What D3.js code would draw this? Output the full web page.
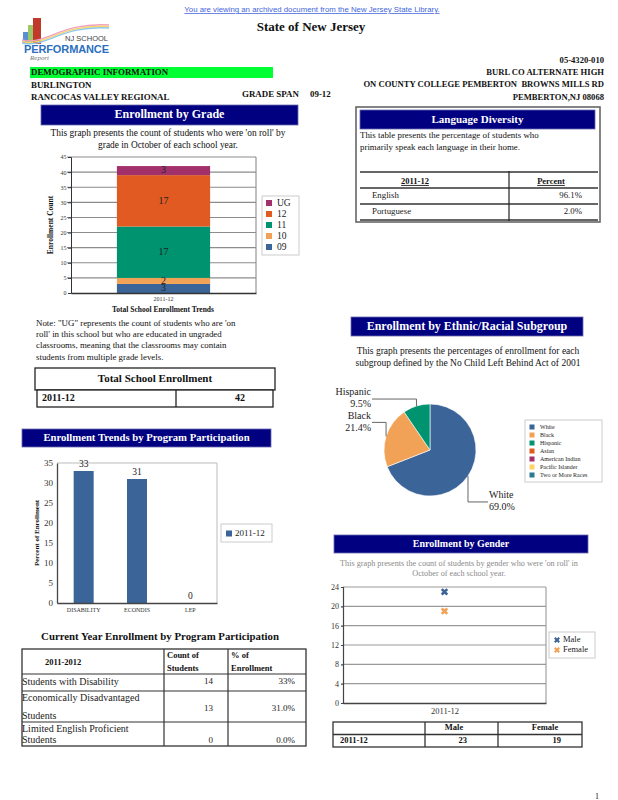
<!DOCTYPE html>
<html>
<head>
<meta charset="utf-8">
<script src="https://cdn.jsdelivr.net/npm/d3@7"></script>
<style>
  body { margin: 0; background: #fff; }
  svg { display: block; }
  text { font-family: "Liberation Serif", "Times New Roman", serif; fill: #111; }
</style>
</head>
<body>
<div id="page"></div>
<script>
// ---- data ----
const gradeYears = ["2011-12"];
const gradeKeys = ["09", "10", "11", "12", "UG"];
const gradeCounts = [3, 2, 17, 17, 3];
const gradeColors = ["#3b6499", "#f2a256", "#00936f", "#e05a21", "#a2306b"];
const gradeTicks = [0, 5, 10, 15, 20, 25, 30, 35, 40, 45];

const languages = ["English", "Portuguese"];
const languagePct = ["96.1%", "2.0%"];

const programCats = ["DISABILITY", "ECONDIS", "LEP"];
const programPct = [33, 31, 0];
const programTicks = [0, 5, 10, 15, 20, 25, 30, 35];

const ethnicGroups = ["White", "Black", "Hispanic", "Asian", "American Indian", "Pacific Islander", "Two or More Races"];
const ethnicPct = [69.0, 21.4, 9.5, 0, 0, 0, 0];
const ethnicColors = ["#3b6499", "#f2a256", "#00936f", "#e05a21", "#a2306b", "#ffd166", "#2a7b91"];

const genderSeries = ["Male", "Female"];
const genderCounts = [23, 19];
const genderColors = ["#3b6499", "#f2a256"];
const genderTicks = [0, 4, 8, 12, 16, 20, 24];

const programRows = [["Students with Disability"], ["Economically Disadvantaged", "Students"], ["Limited English Proficient", "Students"]];
const programCounts = [14, 13, 0];
const programShares = ["33%", "31.0%", "0.0%"];
const totalEnrollment = 42;

const W = 618, H = 800;
const navy = "#000080";

const svg = d3.select("#page").append("svg")
    .attr("width", W)
    .attr("height", H);

function label(g, x, y, s, opts = {}) {
    return g.append("text")
        .attr("x", x)
        .attr("y", y)
        .attr("text-anchor", opts.anchor || "start")
        .attr("dominant-baseline", "middle")
        .attr("font-size", opts.size || 9)
        .attr("font-weight", opts.bold ? "bold" : null)
        .attr("text-decoration", opts.underline ? "underline" : null)
        .style("fill", opts.color || "#111")
        .text(s);
}

function headerBar(x, y, w, h, s, size) {
    svg.append("rect").attr("x", x).attr("y", y).attr("width", w).attr("height", h)
        .attr("fill", navy).attr("stroke", "#6a6ab0").attr("stroke-width", 0.8);
    label(svg, x + w / 2, y + h / 2 + 0.5, s, {anchor: "middle", size: size, bold: true, color: "#fff"});
}

// ---- page header ----
svg.append("text")
    .attr("x", 312).attr("y", 10)
    .attr("text-anchor", "middle").attr("dominant-baseline", "middle")
    .attr("font-size", 7.8)
    .attr("text-decoration", "underline")
    .style("font-family", "'Liberation Sans', Arial, sans-serif")
    .style("fill", "#4466dd")
    .text("You are viewing an archived document from the New Jersey State Library.");

label(svg, 311, 28, "State of New Jersey", {anchor: "middle", size: 13, bold: true});

// logo
const logo = svg.append("g");
logo.append("rect").attr("x", 23).attr("y", 32).attr("width", 5).attr("height", 12).attr("fill", "#5b8fd0");
logo.append("rect").attr("x", 28).attr("y", 25).attr("width", 5).attr("height", 19).attr("fill", "#9cc86a");
logo.append("rect").attr("x", 33).attr("y", 18).attr("width", 8).attr("height", 26).attr("fill", "#c0392b");
[["#f2a0c0", 0], ["#f7d36b", 1.5], ["#8ec9ea", 3]].forEach(([c, o]) => {
    logo.append("path")
        .attr("d", `M22 ${40 + o} C 45 ${46 + o}, 60 ${22 + o}, 109 ${25 + o}`)
        .attr("fill", "none").attr("stroke", c).attr("stroke-width", 1.3);
});
logo.append("text").attr("x", 108).attr("y", 41).attr("text-anchor", "end")
    .attr("font-size", 7.5).style("font-family", "'Liberation Sans', Arial, sans-serif").style("fill", "#444")
    .text("NJ SCHOOL");
logo.append("text").attr("x", 24).attr("y", 53)
    .attr("font-size", 11).attr("font-weight", "bold").attr("textLength", 85)
    .style("font-family", "'Liberation Sans', Arial, sans-serif").style("fill", "#2c6fc1")
    .text("PERFORMANCE");
logo.append("text").attr("x", 30).attr("y", 60)
    .attr("font-size", 7).attr("font-style", "italic").style("fill", "#777")
    .text("Report");

svg.append("rect").attr("x", 30).attr("y", 67).attr("width", 243).attr("height", 11).attr("fill", "#00ff33");
label(svg, 31, 73, "DEMOGRAPHIC INFORMATION", {size: 8.9, bold: true});
label(svg, 31, 85.5, "BURLINGTON", {size: 8.9, bold: true});
label(svg, 31, 98, "RANCOCAS VALLEY REGIONAL", {size: 8.9, bold: true});
label(svg, 242, 94.5, "GRADE SPAN", {size: 8.9, bold: true});
label(svg, 310, 94.5, "09-12", {size: 8.9, bold: true});

[["05-4320-010", 61], ["BURL CO ALTERNATE HIGH", 73], ["ON COUNTY COLLEGE PEMBERTON  BROWNS MILLS RD", 85.5], ["PEMBERTON,NJ 08068", 98]]
    .forEach(([s, y]) => label(svg, 604, y, s, {anchor: "end", size: 8.6, bold: true}).style("white-space", "pre"));

// ---- Enrollment by Grade ----
headerBar(41, 105, 257, 20, "Enrollment by Grade", 12);
label(svg, 168, 134, "This graph presents the count of students who were 'on roll' by", {anchor: "middle", size: 9.4});
label(svg, 168, 145.5, "grade in October of each school year.", {anchor: "middle", size: 9.4});

const gx = d3.scaleBand().domain(gradeYears).range([71, 256]).padding(0.33);
const gy = d3.scaleLinear().domain([0, 45]).range([293, 157]);
const grade = svg.append("g");

grade.selectAll(".grid").data(gradeTicks.slice(1)).join("line")
    .attr("x1", 67).attr("x2", 256)
    .attr("y1", d => gy(d)).attr("y2", d => gy(d))
    .attr("stroke", "#8c8c8c").attr("stroke-width", 1.1);
grade.append("line").attr("x1", 256).attr("x2", 256).attr("y1", gy(45)).attr("y2", gy(0))
    .attr("stroke", "#8c8c8c").attr("stroke-width", 1.1);

const gradeRow = {year: gradeYears[0]};
gradeKeys.forEach((k, i) => gradeRow[k] = gradeCounts[i]);
const gradeStack = d3.stack().keys(gradeKeys)([gradeRow]);

grade.selectAll(".seg").data(gradeStack).join("rect")
    .attr("x", gx(gradeYears[0]))
    .attr("width", gx.bandwidth())
    .attr("y", d => gy(d[0][1]))
    .attr("height", d => gy(d[0][0]) - gy(d[0][1]))
    .attr("fill", (d, i) => gradeColors[i]);

grade.selectAll(".seglab").data(gradeStack).join("text")
    .attr("x", gx(gradeYears[0]) + gx.bandwidth() / 2)
    .attr("y", d => gy((d[0][0] + d[0][1]) / 2) + 0.5)
    .attr("text-anchor", "middle").attr("dominant-baseline", "middle")
    .attr("font-size", 10).style("fill", "#222")
    .text((d, i) => gradeCounts[i]);

grade.append("g").attr("transform", "translate(71,0)")
    .call(d3.axisLeft(gy).tickValues(gradeTicks).tickSize(3).tickPadding(1.5))
    .call(a => a.selectAll("text").attr("font-size", 6).style("font-family", "'Liberation Serif', serif").style("fill", "#333"))
    .call(a => a.selectAll("line,path").attr("stroke", "#333"));
grade.append("g").attr("transform", "translate(0,293)")
    .call(d3.axisBottom(gx).tickSize(0).tickPadding(4).tickSizeOuter(0))
    .call(a => a.selectAll("text").attr("font-size", 6).style("font-family", "'Liberation Serif', serif").style("fill", "#333"))
    .call(a => a.select("path").attr("stroke", "#333").attr("stroke-width", 1.3));

label(svg, 0, 0, "Enrollment Count", {anchor: "middle", size: 7.5, bold: true})
    .attr("transform", "translate(51,225) rotate(-90)");
label(svg, 163, 310, "Total School Enrollment Trends", {anchor: "middle", size: 7.5, bold: true});

const gLeg = svg.append("g");
gLeg.append("rect").attr("x", 262).attr("y", 196).attr("width", 37).attr("height", 59)
    .attr("fill", "#fff").attr("stroke", "#ccc");
const gLegY = d3.scalePoint().domain(gradeKeys.slice().reverse()).range([203, 247]);
gLeg.selectAll(".sw").data(gradeKeys).join("rect")
    .attr("x", 266).attr("y", d => gLegY(d) - 3).attr("width", 6).attr("height", 6)
    .attr("fill", (d, i) => gradeColors[i]);
gLeg.selectAll(".lt").data(gradeKeys).join("text")
    .attr("x", 277).attr("y", d => gLegY(d) + 0.5)
    .attr("dominant-baseline", "middle").attr("font-size", 9.5).style("fill", "#222")
    .text(d => d);

["Note: \"UG\" represents the count of students who are 'on",
 "roll' in this school but who are educated in ungraded",
 "classrooms, meaning that the classrooms may contain",
 "students from multiple grade levels."]
    .forEach((s, i) => label(svg, 36, 323.5 + i * 11.4, s, {size: 8.9}));

// total enrollment box
svg.append("rect").attr("x", 35).attr("y", 368).attr("width", 240).attr("height", 22)
    .attr("fill", "#fff").attr("stroke", "#222").attr("stroke-width", 1.3);
label(svg, 155, 379, "Total School Enrollment", {anchor: "middle", size: 11, bold: true});
svg.append("rect").attr("x", 37).attr("y", 390).attr("width", 236).attr("height", 17)
    .attr("fill", "#fff").attr("stroke", "#222").attr("stroke-width", 1.3);
svg.append("line").attr("x1", 176).attr("x2", 176).attr("y1", 390).attr("y2", 407)
    .attr("stroke", "#222").attr("stroke-width", 1.3);
label(svg, 42, 398.5, gradeYears[0], {size: 10, bold: true});
label(svg, 245, 398.5, totalEnrollment, {anchor: "end", size: 10, bold: true});

// ---- Language Diversity ----
svg.append("rect").attr("x", 356).attr("y", 107).attr("width", 244).attr("height", 115)
    .attr("fill", "#fff").attr("stroke", "#666").attr("stroke-width", 1.6);
headerBar(360, 110, 235, 19, "Language Diversity", 11);
label(svg, 360, 136, "This table presents the percentage of students who", {size: 8.9});
label(svg, 360, 148, "primarily speak each language in their home.", {size: 8.9});

const langY = d3.scaleBand().domain(languages).range([188, 220]);
const lang = svg.append("g");
lang.selectAll(".hl").data([172, 188].concat(languages.map(d => langY(d) + langY.bandwidth()))).join("line")
    .attr("x1", 360).attr("x2", 598).attr("y1", d => d).attr("y2", d => d)
    .attr("stroke", "#333").attr("stroke-width", 1.6);
lang.append("line").attr("x1", 509).attr("x2", 509).attr("y1", 171).attr("y2", 221)
    .attr("stroke", "#222").attr("stroke-width", 1.2);
label(lang, 415, 182, gradeYears[0], {anchor: "middle", size: 8.5, bold: true, underline: true});
label(lang, 551, 182, "Percent", {anchor: "middle", size: 8.5, bold: true, underline: true});
lang.selectAll(".ln").data(languages).join("text")
    .attr("x", 372).attr("y", d => langY(d) + langY.bandwidth() / 2)
    .attr("dominant-baseline", "middle").attr("font-size", 8.8).style("fill", "#222")
    .text(d => d);
lang.selectAll(".lp").data(languagePct).join("text")
    .attr("x", 582).attr("y", (d, i) => langY(languages[i]) + langY.bandwidth() / 2)
    .attr("text-anchor", "end").attr("dominant-baseline", "middle").attr("font-size", 8.8).style("fill", "#222")
    .text(d => d);

// ---- Enrollment by Ethnic/Racial Subgroup ----
headerBar(351, 317, 232, 19, "Enrollment by Ethnic/Racial Subgroup", 12);
label(svg, 468, 352, "This graph presents the percentages of enrollment for each", {anchor: "middle", size: 9.5});
label(svg, 468, 363.5, "subgroup defined by the No Child Left Behind Act of 2001", {anchor: "middle", size: 9.5});

const pieCx = 430, pieCy = 450, pieR = 46;
const pieData = d3.pie().sort(null).value(d => d)(ethnicPct);
const arc = d3.arc().innerRadius(0).outerRadius(pieR);
const pie = svg.append("g").attr("transform", `translate(${pieCx},${pieCy})`);
pie.selectAll("path").data(pieData.filter(d => d.value > 0)).join("path")
    .attr("d", arc)
    .attr("fill", d => ethnicColors[d.index])
    .attr("stroke", "#fff").attr("stroke-width", 0.6);

// leader lines: run from the slice edge, bend, then go to the label
const elbowDy = {White: 26, Black: -14, Hispanic: -7};
pieData.filter(d => d.value > 0).forEach(d => {
    const name = ethnicGroups[d.index];
    const a = (d.startAngle + d.endAngle) / 2;
    const px = pieR * Math.sin(a), py = -pieR * Math.cos(a);
    const ey = py + elbowDy[name];
    const right = px > 0;
    const ex = right ? px + 20 : -58;
    pie.append("path")
        .attr("d", `M${px},${py} L${px},${ey} L${ex},${ey}`)
        .attr("fill", "none").attr("stroke", "#555").attr("stroke-width", 0.9);
    const tx = right ? ex + 1 : ex - 1;
    const anchor = right ? "start" : "end";
    label(pie, tx, ey - 6, name, {anchor, size: 10, color: "#222"});
    label(pie, tx, ey + 6, d.value.toFixed(1) + "%", {anchor, size: 10, color: "#222"});
});

const eLeg = svg.append("g");
eLeg.append("rect").attr("x", 525).attr("y", 420).attr("width", 77).attr("height", 62)
    .attr("fill", "#fff").attr("stroke", "#ccc");
const eLegY = d3.scalePoint().domain(ethnicGroups).range([427, 475]);
eLeg.selectAll(".sw").data(ethnicGroups).join("rect")
    .attr("x", 529.5).attr("y", d => eLegY(d) - 2.5).attr("width", 5).attr("height", 5)
    .attr("fill", (d, i) => ethnicColors[i]);
eLeg.selectAll(".lt").data(ethnicGroups).join("text")
    .attr("x", 540).attr("y", d => eLegY(d) + 0.5)
    .attr("dominant-baseline", "middle").attr("font-size", 6).style("fill", "#222")
    .text(d => d);

// ---- Enrollment Trends by Program Participation ----
headerBar(22, 429, 249, 18, "Enrollment Trends by Program Participation", 10.7);

const px = d3.scaleBand().domain(programCats).range([57, 217]);
const py = d3.scaleLinear().domain([0, 35]).range([603, 463]);
const prog = svg.append("g");
prog.append("path").attr("d", `M57,463 H217 V603`).attr("fill", "none")
    .attr("stroke", "#bbb").attr("stroke-width", 1);
const barW = px.bandwidth() * 0.375;
prog.selectAll(".bar").data(programPct).join("rect")
    .attr("x", (d, i) => px(programCats[i]) + px.bandwidth() / 2 - barW / 2)
    .attr("width", barW)
    .attr("y", d => py(d))
    .attr("height", d => py(0) - py(d))
    .attr("fill", "#3b6499");
prog.selectAll(".val").data(programPct).join("text")
    .attr("x", (d, i) => px(programCats[i]) + px.bandwidth() / 2)
    .attr("y", d => py(d) - 6)
    .attr("text-anchor", "middle").attr("dominant-baseline", "middle")
    .attr("font-size", 9.5).style("fill", "#222")
    .text(d => d);
prog.append("g").attr("transform", "translate(57,0)")
    .call(d3.axisLeft(py).tickValues(programTicks).tickSize(0).tickPadding(4))
    .call(a => a.selectAll("text").attr("font-size", 9).style("font-family", "'Liberation Serif', serif").style("fill", "#333"))
    .call(a => a.select("path").attr("stroke", "#444").attr("stroke-width", 1.3));
prog.append("g").attr("transform", "translate(0,603)")
    .call(d3.axisBottom(px).tickSize(0).tickPadding(5).tickSizeOuter(0))
    .call(a => a.selectAll("text").attr("font-size", 6).style("font-family", "'Liberation Serif', serif").style("fill", "#333"))
    .call(a => a.select("path").attr("stroke", "#444").attr("stroke-width", 1.3));
label(svg, 0, 0, "Percent of Enrollment", {anchor: "middle", size: 7, bold: true})
    .attr("transform", "translate(37,533) rotate(-90)");
svg.append("rect").attr("x", 221).attr("y", 524).attr("width", 51).attr("height", 18)
    .attr("fill", "#fff").attr("stroke", "#ccc");
svg.append("rect").attr("x", 226).attr("y", 530.5).attr("width", 6).attr("height", 6).attr("fill", "#3b6499");
label(svg, 235, 533.5, gradeYears[0], {size: 9, color: "#222"});

// ---- Current Year Enrollment by Program Participation ----
label(svg, 160, 638, "Current Year Enrollment by Program Participation", {anchor: "middle", size: 10.8, bold: true});
const rowEdges = [649, 674, 691, 722, 746];
const colEdges = [22, 164, 228, 306];
const ptab = svg.append("g");
ptab.append("rect").attr("x", 22).attr("y", 649).attr("width", 284).attr("height", 97)
    .attr("fill", "none").attr("stroke", "#333").attr("stroke-width", 1.3);
ptab.selectAll(".rl").data(rowEdges.slice(1, -1)).join("line")
    .attr("x1", 22).attr("x2", 306).attr("y1", d => d).attr("y2", d => d)
    .attr("stroke", "#333").attr("stroke-width", 1.2);
ptab.selectAll(".cl").data(colEdges.slice(1, -1)).join("line")
    .attr("x1", d => d).attr("x2", d => d).attr("y1", 649).attr("y2", 746)
    .attr("stroke", "#333").attr("stroke-width", 1.2);
label(ptab, 45, 663, "2011-2012", {size: 8.5, bold: true});
label(ptab, 167, 656, "Count of", {size: 8.5, bold: true});
label(ptab, 167, 669, "Students", {size: 8.5, bold: true});
label(ptab, 231, 656, "% of", {size: 8.5, bold: true});
label(ptab, 231, 669, "Enrollment", {size: 8.5, bold: true});
programRows.forEach((lines, i) => {
    const top = rowEdges[i + 1], bot = rowEdges[i + 2];
    if (lines.length === 1) {
        label(ptab, 22, bot - 8, lines[0], {size: 10, color: "#222"});
        label(ptab, 213, bot - 9, programCounts[i], {anchor: "end", size: 9, color: "#222"});
        label(ptab, 295, bot - 9, programShares[i], {anchor: "end", size: 9, color: "#222"});
    } else {
        label(ptab, 22, top + 7.5, lines[0], {size: 10, color: "#222"});
        label(ptab, 22, bot - 5.5, lines[1], {size: 10, color: "#222"});
        const my = i === 1 ? (top + bot) / 2 + 2 : bot - 5.5;
        label(ptab, 213, my, programCounts[i], {anchor: "end", size: 9, color: "#222"});
        label(ptab, 295, my, programShares[i], {anchor: "end", size: 9, color: "#222"});
    }
});

// ---- Enrollment by Gender ----
headerBar(334, 535, 254, 18, "Enrollment by Gender", 10);
label(svg, 459, 564, "This graph presents the count of students by gender who were 'on roll' in", {anchor: "middle", size: 8.2, color: "#8a8a8a"});
label(svg, 459, 574.5, "October of each school year.", {anchor: "middle", size: 8.2, color: "#8a8a8a"});

const sx = d3.scalePoint().domain(gradeYears).range([343, 546]).padding(0.5);
const sy = d3.scaleLinear().domain([0, 24]).range([703, 587]);
const gen = svg.append("g");
gen.selectAll(".grid").data(genderTicks.slice(1)).join("line")
    .attr("x1", 343).attr("x2", 546).attr("y1", d => sy(d)).attr("y2", d => sy(d))
    .attr("stroke", "#999").attr("stroke-width", 1.1);
gen.append("line").attr("x1", 546).attr("x2", 546).attr("y1", 587).attr("y2", 703)
    .attr("stroke", "#999").attr("stroke-width", 1.1);
gen.append("g").attr("transform", "translate(343,0)")
    .call(d3.axisLeft(sy).tickValues(genderTicks).tickSize(2).tickPadding(2))
    .call(a => a.selectAll("text").attr("font-size", 8).style("font-family", "'Liberation Serif', serif").style("fill", "#333"))
    .call(a => a.selectAll("path,line").attr("stroke", "#444").attr("stroke-width", 1.2));
gen.append("g").attr("transform", "translate(0,703)")
    .call(d3.axisBottom(sx).tickSize(0).tickPadding(5).tickSizeOuter(0))
    .call(a => a.selectAll("text").attr("font-size", 8.5).style("font-family", "'Liberation Serif', serif").style("fill", "#333"))
    .call(a => a.select("path").attr("stroke", "#444").attr("stroke-width", 1.3));
const xMark = d3.symbol().type(d3.symbolCross).size(34);
gen.selectAll(".pt").data(genderCounts).join("path")
    .attr("d", xMark)
    .attr("transform", d => `translate(${sx(gradeYears[0])},${sy(d)}) rotate(45)`)
    .attr("fill", (d, i) => genderColors[i]);
gen.append("rect").attr("x", 549).attr("y", 632).attr("width", 46).attr("height", 26)
    .attr("fill", "#fff").attr("stroke", "#ccc");
const genLegY = d3.scalePoint().domain(genderSeries).range([640, 650]);
gen.selectAll(".lm").data(genderSeries).join("path")
    .attr("d", d3.symbol().type(d3.symbolCross).size(22))
    .attr("transform", d => `translate(557,${genLegY(d)}) rotate(45)`)
    .attr("fill", (d, i) => genderColors[i]);
gen.selectAll(".lt").data(genderSeries).join("text")
    .attr("x", 563).attr("y", d => genLegY(d) + 0.5)
    .attr("dominant-baseline", "middle").attr("font-size", 8.5).style("fill", "#222")
    .text(d => d);

// gender table
const gtab = svg.append("g");
gtab.append("rect").attr("x", 333).attr("y", 722).attr("width", 249).attr("height", 25)
    .attr("fill", "none").attr("stroke", "#333").attr("stroke-width", 1.3);
gtab.append("line").attr("x1", 333).attr("x2", 582).attr("y1", 734.5).attr("y2", 734.5)
    .attr("stroke", "#333").attr("stroke-width", 1.3);
[425, 498].forEach(x => gtab.append("line").attr("x1", x).attr("x2", x).attr("y1", 722).attr("y2", 747)
    .attr("stroke", "#333").attr("stroke-width", 1.3));
label(gtab, 454, 728.5, genderSeries[0], {anchor: "middle", size: 8.5, bold: true});
label(gtab, 545, 728.5, genderSeries[1], {anchor: "middle", size: 8.5, bold: true});
label(gtab, 340, 741, gradeYears[0], {size: 8.5, bold: true});
label(gtab, 467, 741, genderCounts[0], {anchor: "end", size: 8.5, bold: true});
label(gtab, 561, 741, genderCounts[1], {anchor: "end", size: 8.5, bold: true});

label(svg, 597, 797, "1", {anchor: "middle", size: 8});
</script>
</body>
</html>
